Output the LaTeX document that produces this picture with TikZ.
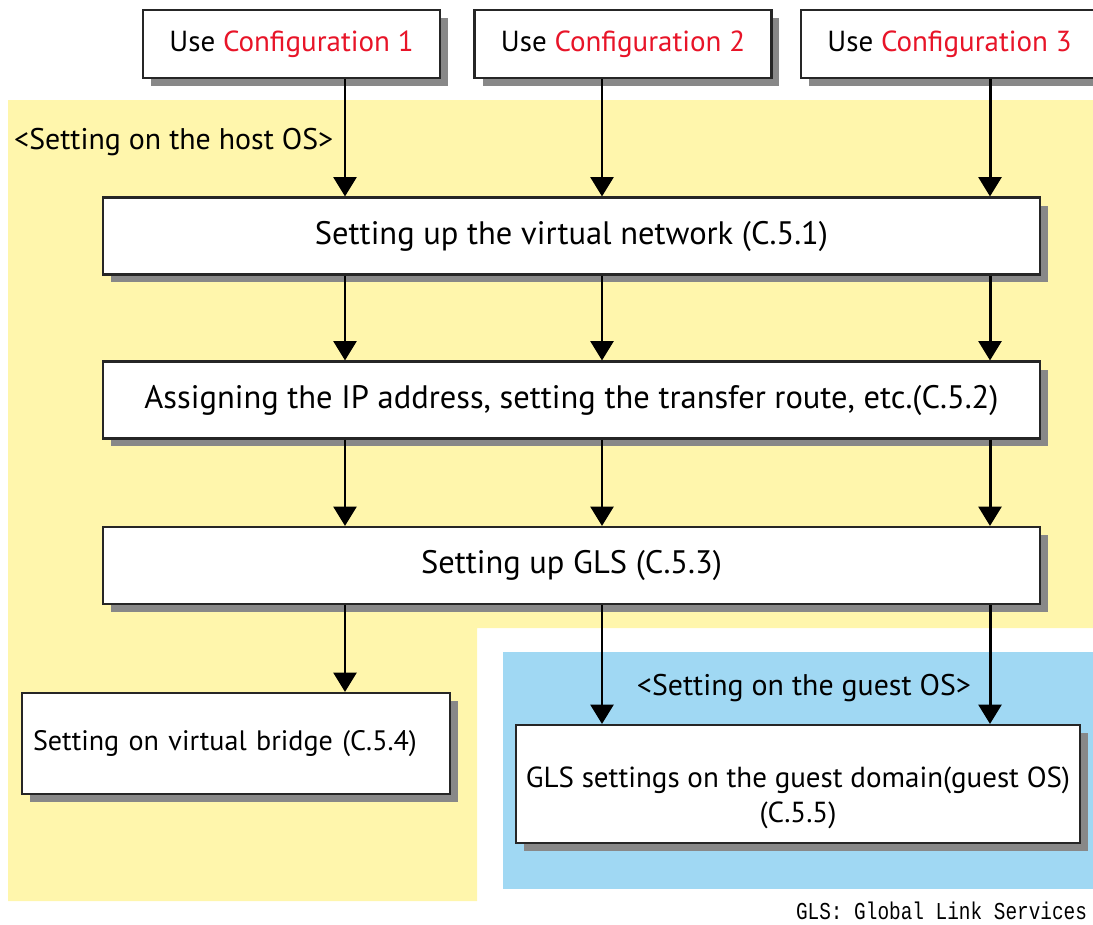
\documentclass[tikz,border=0pt]{standalone}
\usepackage{fontspec}
\setmainfont{PT Sans}
\setmonofont{Liberation Mono}
\usetikzlibrary{positioning,arrows.meta,shadows}
\definecolor{hostyellow}{RGB}{255,246,172}
\definecolor{guestblue}{RGB}{160,216,243}
\definecolor{cfgred}{RGB}{232,20,40}
\definecolor{boxshadow}{RGB}{136,136,136}
\tikzset{
  boxshade/.style={drop shadow={shadow xshift=0.16cm,shadow yshift=-0.16cm,fill=boxshadow,opacity=1}},
  plainbox/.style={draw=black!85,line width=1.2pt,fill=white,boxshade,inner sep=2pt},
  cfgbox/.style={plainbox,minimum width=5.94cm,minimum height=1.36cm,font=\fontsize{16.5}{19}\selectfont},
  stepbox/.style={plainbox,minimum width=18.74cm,minimum height=1.54cm},
  every edge/.style={draw,-{Triangle[width=13pt,length=11pt]},line width=1.7pt},
}

\begin{document}
\begin{tikzpicture}[x=0.02cm,y=-0.02cm,font=\fontsize{18.5}{22}\selectfont]

\useasboundingbox (0,0) rectangle (1093,924);

% host and guest areas
\fill[hostyellow] (8,100) -- (1093,100) -- (1093,628) -- (477,628) -- (477,901) -- (8,901) -- cycle;
\fill[guestblue] (503,652) rectangle (1093,889);

\node[cfgbox] (cfg1) at (291.5,44) {Use \textcolor{cfgred}{Configuration 1}};
\node[cfgbox] (cfg2) at (623,44) {Use \textcolor{cfgred}{Configuration 2}};
\node[cfgbox] (cfg3) at (949.5,44) {Use \textcolor{cfgred}{Configuration 3}};

\node[anchor=west,font=\fontsize{17}{20}\selectfont] (hostlbl) at (8,142) {<Setting on the host OS>};

\node[stepbox] (net) at (571.5,236) {Setting up the virtual network (C.5.1)};
\node[stepbox] (ip) at (571.5,400) {Assigning the IP address, setting the transfer route, etc.(C.5.2)};
\node[stepbox] (gls) at (571.5,565.5) {Setting up GLS (C.5.3)};

\node[plainbox,minimum width=8.56cm,minimum height=2.02cm,inner xsep=0.22cm,
  text width=8.12cm,align=left,font=\fontsize{16}{19}\selectfont] (bridge) at (236,743.5)
  {Setting on virtual bridge (C.5.4)};

\node[font=\fontsize{17}{20}\selectfont] (guestlbl) at (804,688) {<Setting on the guest OS>};
\node[plainbox,minimum width=11.28cm,minimum height=2.36cm,align=center,text height=1.66cm,
  font=\fontsize{16.5}{20}\selectfont] (guest) at (798,784)
  {GLS settings on the guest domain(guest OS)\\(C.5.5)};

\node[anchor=east,xscale=0.8,transform shape,font=\fontsize{13.8}{14}\ttfamily] (note) at (1092,911)
  {GLS: Global Link Services};

% arrow columns
\coordinate (lx) at (345,0);
\coordinate (mx) at (602,0);
\coordinate (rx) at (990,0);

\path (cfg1.south -| lx) edge (net.north -| lx)
      (cfg2.south -| mx) edge (net.north -| mx)
      (cfg3.south -| rx) edge (net.north -| rx);
\foreach \c in {lx,mx,rx} {
  \path (net.south -| \c) edge (ip.north -| \c)
        (ip.south -| \c) edge (gls.north -| \c);
}
\path (gls.south -| lx) edge (bridge.north -| lx)
      (gls.south -| mx) edge (guest.north -| mx)
      (gls.south -| rx) edge (guest.north -| rx);

\end{tikzpicture}
\end{document}
